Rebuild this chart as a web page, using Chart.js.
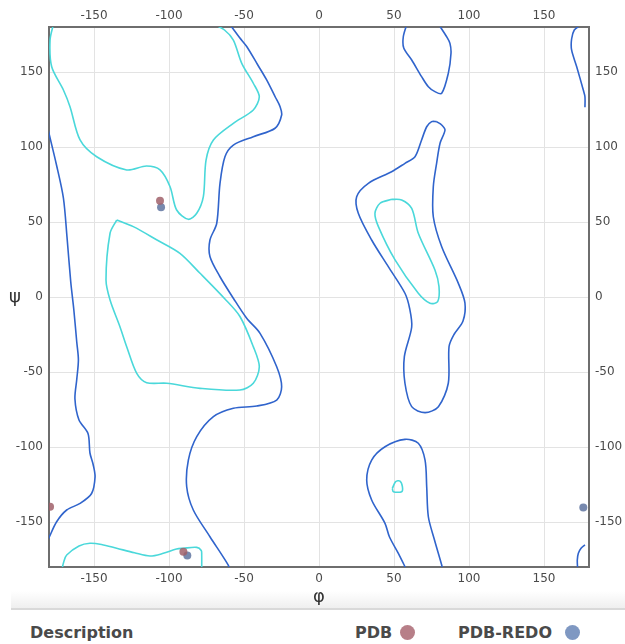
<!DOCTYPE html>
<html>
<head>
<meta charset="utf-8">
<script src="https://cdn.jsdelivr.net/npm/chart.js@4.4.0/dist/chart.umd.min.js"></script>
<style>
    body { margin: 0; background: #fff; font-family: "DejaVu Sans", Verdana, sans-serif; }
    #wrap { position: relative; width: 625px; height: 644px; overflow: hidden; }
    #shade { position: absolute; left: 11px; top: 591px; width: 614px; height: 17px; background: linear-gradient(#fff, #efefef); border-bottom: 2px solid #d9d9d9; }
    #rama { position: absolute; left: 0; top: 0; }
    .lg { position: absolute; top: 623px; font-weight: bold; font-size: 16px; line-height: 20px; color: #4a4a4a; white-space: nowrap; }
    .dot { position: absolute; top: 625px; width: 15px; height: 15px; border-radius: 50%; }
</style>
</head>
<body>
<div id="wrap">
    <div id="shade"></div>
    <canvas id="rama" width="625" height="605"></canvas>
    <span class="lg" style="left:30px">Description</span>
    <span class="lg" style="left:355px">PDB</span>
    <span class="dot" style="left:400px; background:#b77f88"></span>
    <span class="lg" style="left:458px">PDB-REDO</span>
    <span class="dot" style="left:565px; background:#7f98c2"></span>
</div>
<script>
const tickValues = [-150, -100, -50, 0, 50, 100, 150];

// residues (phi, psi)
const pdbPhi = [-106, -179.3, -90.4];
const pdbPsi = [64.2, -139.8, -169.8];
const redoPhi = [-105.3, -87.8, 176.2];
const redoPsi = [59.8, -172.4, -140.4];

// outer (allowed) contours
const leftBlue = [[-181, 113], [-180, 109], [-175, 88], [-170.4, 66], [-168, 40], [-165.5, 10], [-163.5, -8], [-161.5, -30],
    [-160.4, -42], [-161.5, -55], [-162.7, -68], [-160, -82], [-154, -91], [-152.7, -104], [-150.5, -112], [-149.3, -120],
    [-151.6, -131], [-159.3, -137.6], [-168.2, -142], [-174.9, -149.8], [-179.8, -160], [-181, -163]];
const rightBlueTop = [[174, 181], [170.2, 178], [168.4, 172], [168.4, 164.7], [171.8, 153.5], [176.2, 138], [177.3, 133.5], [177.3, 126.5]];
const rightBlueBottom = [[177.3, -165.3], [174.7, -167.5], [172.9, -170.9], [172.2, -175.3], [172.4, -181]];
const blueMain = [[-60, 182], [-58.2, 180], [-53, 173], [-48.2, 167], [-41, 155], [-34.9, 144.7], [-29, 133], [-26, 127],
    [-24.9, 121.3], [-29.3, 112.5], [-43.8, 106.9], [-57.1, 101.3], [-62.7, 93.5], [-66, 75.8], [-68.2, 49], [-72.7, 38],
    [-72.7, 27], [-66, 13.5], [-57, -1], [-48.2, -14.2], [-39.3, -24.2], [-28.2, -46.5], [-24.9, -59.8], [-28.2, -68.7],
    [-41.5, -72.7], [-57.1, -74.2], [-70.4, -79.8], [-81.5, -93.1], [-87.1, -108.7], [-88.2, -126.5], [-83.8, -142],
    [-72.7, -159.8], [-60.5, -178.7], [-59.5, -182]];
const blueRight = [[78.4, 116.9], [75.1, 116.9], [71.8, 113.5], [68.4, 104.7], [64, 93.5], [57.3, 89.1], [48.4, 83.5],
    [32.9, 75.8], [25.1, 66.9], [26.2, 55.8], [35.1, 38], [46.2, 20.2], [57.3, 2.5], [60.5, -8], [61.8, -20], [56.9, -39.8],
    [57.3, -57.5], [61.8, -73.1], [70.7, -77.1], [79.6, -73.1], [86.2, -57.5], [86.7, -33], [90, -25], [96, -16],
    [97.3, -4], [92.9, 9.1], [81.8, 33.5], [76.2, 53.5], [76.2, 73.5], [78.4, 89.1], [80.7, 102.5], [84, 111.3],
    [81.8, 114.7]];
const blueIslandTop = [[58.6, 182], [56.2, 173.5], [56.5, 166], [61.8, 158], [68.4, 146.9], [72.9, 140.2], [77.3, 136.9],
    [81.8, 135.8], [86.2, 149.1], [88, 162.5], [87.3, 169.1], [85.1, 173.5], [79.6, 182]];
const blueIslandBottom = [[58.4, -182], [52.9, -170.9], [47, -160], [44, -150.9], [35.1, -135.3], [31.8, -122], [35.1, -108.7],
    [44, -99.8], [57.3, -94.9], [66.2, -97.5], [70.7, -108.7], [71.8, -126.5], [72.9, -146.5], [77, -162], [81.8, -178.7],
    [82.5, -182]];

// inner (favoured) contours
const cyanTop = [[-177, 182], [-179.3, 171.3], [-178.2, 153.5], [-170.4, 138], [-166, 126.9], [-159.3, 104.7], [-148.2, 93.5],
    [-128.2, 84.7], [-115, 87.3], [-106, 84.7], [-99.3, 73.5], [-94.9, 58], [-87.1, 51.8], [-81.5, 55.8], [-77.1, 66.9],
    [-75.3, 91.3], [-70.4, 104.7], [-57.1, 115.8], [-43.8, 124.7], [-39.8, 133.5], [-43.8, 142.5], [-51.5, 155.8],
    [-57.1, 171.3], [-63, 178], [-70.4, 182]];
const cyanBottom = [[-171.5, -182], [-170, -176], [-168.2, -172], [-160, -166], [-152.7, -164.2], [-145, -165], [-134.9, -167.5],
    [-123, -170.5], [-112.7, -172.7], [-103.8, -170.9], [-95, -168], [-90.4, -167.5], [-81.5, -166.9], [-78.5, -169],
    [-78.2, -172], [-78.2, -182]];
const cyanAlpha = [[-134.9, 51.3], [-123.8, 46.9], [-108, 38], [-92.7, 29.1], [-79.3, 15.8], [-63, -1], [-52.7, -13],
    [-43.8, -33.1], [-39.8, -46.5], [-43.8, -57.5], [-52.7, -62], [-79.3, -60.9], [-101.5, -57.5], [-114.9, -57.1],
    [-121.5, -50.9], [-128.2, -33.1], [-132.7, -19.8], [-139.3, -2], [-142, 11.3], [-139.3, 42.5]];
const cyanRight = [[48.4, 65.1], [55.1, 64.7], [61.8, 59.1], [66.2, 42.5], [77.3, 18], [80, 6.9], [79.1, -3.1], [74, -4.2],
    [66.2, 2.5], [50.7, 24.7], [39.6, 46.9], [37.3, 55.8], [40.7, 62.5]];
const cyanSmall = [[48.9, -127.6], [51.1, -123.1], [54, -122.7], [55.6, -126.4], [55.1, -129.8], [49.6, -129.8]];

const blueColor = '#3064cc';
const cyanColor = '#4ad8da';

function toPts(arr, closed) {
    const pts = arr.map(p => ({ x: p[0], y: p[1] }));
    if (closed) pts.push(pts[0]);
    return pts;
}

function contour(arr, color, closed) {
    return {
        data: toPts(arr, closed),
        showLine: true,
        pointRadius: 0,
        borderColor: color,
        borderWidth: 1.6,
        tension: 0.3,
        fill: false
    };
}

function dots(phi, psi, color) {
    return {
        data: phi.map((x, i) => ({ x: x, y: psi[i] })),
        pointRadius: 4,
        pointBorderWidth: 0,
        backgroundColor: color
    };
}

const axisLabels = {
    id: 'axisLabels',
    afterDraw(chart) {
        const { ctx, chartArea } = chart;
        ctx.save();
        ctx.fillStyle = '#333';
        ctx.font = '18px "DejaVu Sans"';
        ctx.textAlign = 'center';
        ctx.textBaseline = 'middle';
        ctx.fillText('φ', (chartArea.left + chartArea.right) / 2, 597);
        ctx.fillText('ψ', 15, (chartArea.top + chartArea.bottom) / 2);
        ctx.restore();
    }
};

const frame = { display: true, color: '#6e6e6e', width: 2 };
const tickFont = { family: '"DejaVu Sans", Verdana, sans-serif', size: 12 };
const setTicks = s => { s.ticks = tickValues.map(v => ({ value: v })); };

function axis(position, size, pad, showGrid) {
    return {
        type: 'linear',
        position: position,
        min: -180,
        max: 180,
        afterBuildTicks: setTicks,
        afterFit: s => { if (position === 'top' || position === 'bottom') s.height = size; else s.width = size; },
        grid: { display: showGrid, color: '#e3e3e3', lineWidth: 1, drawTicks: false },
        border: frame,
        ticks: { color: '#4a4a4a', font: tickFont, padding: pad, maxRotation: 0, autoSkip: false }
    };
}

new Chart(document.getElementById('rama').getContext('2d'), {
    type: 'scatter',
    data: {
        datasets: [
            dots(pdbPhi, pdbPsi, 'rgba(160, 96, 106, 0.85)'),
            dots(redoPhi, redoPsi, 'rgba(104, 124, 165, 0.9)'),
            contour(cyanTop, cyanColor, false),
            contour(cyanBottom, cyanColor, false),
            contour(cyanAlpha, cyanColor, true),
            contour(cyanRight, cyanColor, true),
            contour(cyanSmall, cyanColor, true),
            contour(leftBlue, blueColor, false),
            contour(rightBlueTop, blueColor, false),
            contour(rightBlueBottom, blueColor, false),
            contour(blueMain, blueColor, false),
            contour(blueRight, blueColor, true),
            contour(blueIslandTop, blueColor, false),
            contour(blueIslandBottom, blueColor, false)
        ]
    },
    options: {
        responsive: false,
        animation: false,
        devicePixelRatio: 1,
        layout: { padding: 0 },
        plugins: { legend: { display: false }, tooltip: { enabled: false } },
        scales: {
            x: axis('bottom', 38, 5, true),
            x2: axis('top', 27, 4, false),
            y: axis('left', 49, 6, true),
            y2: axis('right', 36, 6, false)
        }
    },
    plugins: [axisLabels]
});
</script>
</body>
</html>
